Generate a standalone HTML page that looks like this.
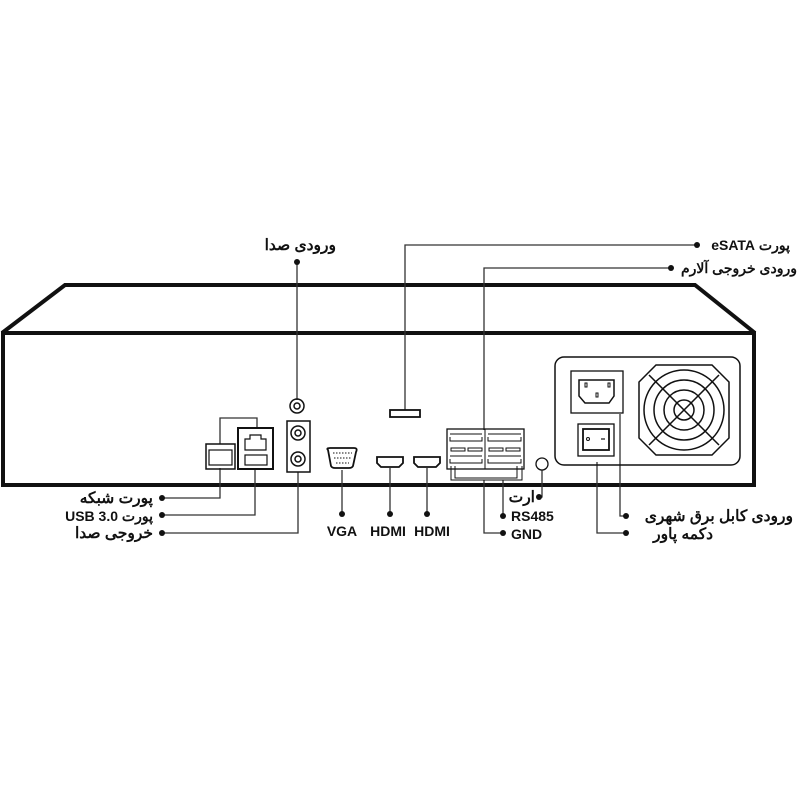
<!DOCTYPE html>
<html><head><meta charset="utf-8"><style>
html,body{margin:0;padding:0;background:#fff;width:800px;height:800px;overflow:hidden}
svg text{font-family:"Liberation Sans","Noto Sans CJK SC",sans-serif;font-weight:bold;font-size:14px;fill:#111}
svg text.fa{font-size:15.5px}
</style></head><body>
<svg width="800" height="800" viewBox="0 0 800 800" xmlns="http://www.w3.org/2000/svg">
<g fill="none" stroke="#111">
<polyline points="2,333 65,285 695,285 755,333" stroke-width="4"/>
<rect x="3" y="333" width="751" height="152" stroke-width="4"/>
<g stroke-width="1.3" stroke="#333">
<polyline points="297,262 297,400"/>
<polyline points="697,245 405,245 405,410"/>
<polyline points="671,268 484,268 484,430"/>
<polyline points="162,498 220,498 220,468"/>
<polyline points="162,515 255,515 255,468"/>
<polyline points="162,533 298,533 298,472"/>
<line x1="342" y1="470" x2="342" y2="514"/>
<line x1="390" y1="468" x2="390" y2="514"/>
<line x1="427" y1="468" x2="427" y2="514"/>
<polyline points="542,470 542,497 539,497"/>
<polyline points="503,480 503,516"/>
<polyline points="484,480 484,533 503,533"/>
<polyline points="620,414 620,516 626,516"/>
<polyline points="597,462 597,533 626,533"/>
<polyline points="220,444 220,418 257,418 257,428"/>
</g>
<rect x="206" y="444" width="29" height="25" stroke-width="1.5"/>
<rect x="209" y="450" width="23" height="15" stroke-width="1.2"/>
<rect x="238" y="428" width="35" height="41" stroke-width="2"/>
<path d="M245 450 V439 H250 V435 H261 V439 H266 V450 Z" stroke-width="1.2"/>
<rect x="245" y="455" width="22" height="10" stroke-width="1.2"/>
<circle cx="297" cy="406" r="7" stroke-width="1.5"/><circle cx="297" cy="406" r="3" stroke-width="1.5"/>
<rect x="287" y="421" width="23" height="51" stroke-width="1.5"/>
<circle cx="298" cy="433" r="7" stroke-width="1.5"/><circle cx="298" cy="433" r="3" stroke-width="1.5"/>
<circle cx="298" cy="459" r="7" stroke-width="1.5"/><circle cx="298" cy="459" r="3" stroke-width="1.5"/>
<path d="M328 450 Q326 448 330 448 H354 Q358 448 356 452 L353 466 Q352 468 349 468 H335 Q332 468 331 466 Z" stroke-width="1.8"/>
<g stroke-width="1" stroke-dasharray="1.5 1.5"><line x1="333" y1="453" x2="352" y2="453"/><line x1="334" y1="458" x2="351" y2="458"/><line x1="336" y1="463" x2="349" y2="463"/></g>
<path d="M377 457 H403 V463 L399 467 H381 L377 463 Z" stroke-width="1.8"/>
<path d="M414 457 H440 V463 L436 467 H418 L414 463 Z" stroke-width="1.8"/>
<rect x="390" y="410" width="30" height="7" stroke-width="1.8"/>
<rect x="447" y="429" width="77" height="40" stroke-width="1.3"/>
<line x1="485" y1="429" x2="485" y2="469" stroke-width="1"/>
<g stroke-width="1"><path d="M450 434 H482 M450 437 V441 H482 V437 M488 434 H521 M488 437 V441 H521 V437"/>
<rect x="451" y="448" width="14" height="3"/><rect x="468" y="448" width="14" height="3"/><rect x="489" y="448" width="14" height="3"/><rect x="506" y="448" width="14" height="3"/>
<path d="M450 456 H482 M450 459 V463 H482 V459 M488 456 H521 M488 459 V463 H521 V459"/>
<path d="M451 466 V480 H522 V466 M455 466 V478 H517 V466"/></g>
<circle cx="542" cy="464" r="6" stroke-width="1.3"/>
<rect x="555" y="357" width="185" height="108" rx="9" stroke-width="1.5"/>
<rect x="571" y="371" width="52" height="42" stroke-width="1.3"/>
<path d="M579 380 H614 V396 L609 403 H585 L579 396 Z" stroke-width="1.5"/>
<rect x="585" y="383" width="2" height="4" stroke-width="1"/><rect x="608" y="383" width="2" height="4" stroke-width="1"/><rect x="596" y="393" width="2" height="4" stroke-width="1"/>
<rect x="578" y="424" width="36" height="32" stroke-width="1.3"/>
<rect x="583" y="429" width="26" height="21" stroke-width="1.8"/>
<circle cx="588" cy="439" r="1.5" stroke-width="1"/><line x1="601" y1="439" x2="605" y2="439" stroke-width="1.2"/>
<path d="M656 365 H712 L729 382 V438 L712 455 H656 L639 438 V382 Z" stroke-width="1.5"/>
<circle cx="684" cy="410" r="40" stroke-width="1.5"/>
<circle cx="684" cy="410" r="30" stroke-width="1.5"/>
<circle cx="684" cy="410" r="20" stroke-width="1.5"/>
<circle cx="684" cy="410" r="10" stroke-width="1.5"/>
<path d="M649 375 L719 445 M719 375 L649 445" stroke-width="1.5"/>
</g>
<g fill="#111">
<circle cx="297" cy="262" r="3"/><circle cx="697" cy="245" r="3"/><circle cx="671" cy="268" r="3"/>
<circle cx="162" cy="498" r="3"/><circle cx="162" cy="515" r="3"/><circle cx="162" cy="533" r="3"/>
<circle cx="342" cy="514" r="3"/><circle cx="390" cy="514" r="3"/><circle cx="427" cy="514" r="3"/>
<circle cx="539" cy="497" r="3"/><circle cx="503" cy="516" r="3"/><circle cx="503" cy="533" r="3"/>
<circle cx="626" cy="516" r="3"/><circle cx="626" cy="533" r="3"/>
</g>
<text class="fa" x="336" y="250" text-anchor="end">ورودی صدا</text>
<text x="790" y="250" direction="rtl" text-anchor="start">پورت eSATA</text>
<text x="797" y="273" text-anchor="end" style="font-size:14px">ورودی خروجی آلارم</text>
<text class="fa" x="153" y="503" text-anchor="end">پورت شبکه</text>
<text x="153" y="521" direction="rtl" text-anchor="start">پورت USB 3.0</text>
<text class="fa" x="153" y="538" text-anchor="end">خروجی صدا</text>
<text x="342" y="536" text-anchor="middle">VGA</text>
<text x="388" y="536" text-anchor="middle">HDMI</text>
<text x="432" y="536" text-anchor="middle">HDMI</text>
<text class="fa" x="535" y="502" text-anchor="end">ارت</text>
<text x="511" y="521">RS485</text>
<text x="511" y="539">GND</text>
<text class="fa" x="793" y="521" text-anchor="end">ورودی کابل برق شهری</text>
<text class="fa" x="713" y="539" text-anchor="end">دکمه پاور</text>
</svg>
</body></html>
